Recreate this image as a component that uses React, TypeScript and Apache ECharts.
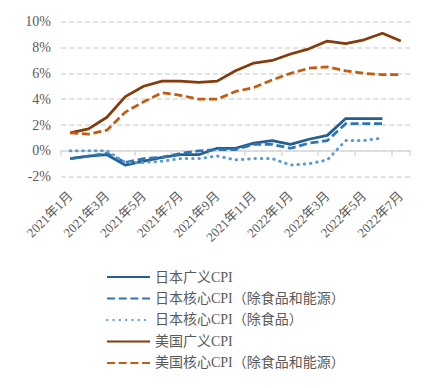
import React, { useEffect, useRef } from "react";
import * as echarts from "echarts";

const months = [
  "2021年1月", "2021年2月", "2021年3月", "2021年4月", "2021年5月", "2021年6月",
  "2021年7月", "2021年8月", "2021年9月", "2021年10月", "2021年11月", "2021年12月",
  "2022年1月", "2022年2月", "2022年3月", "2022年4月", "2022年5月", "2022年6月", "2022年7月",
];

const jpHeadline = [-0.6, -0.4, -0.3, -1.1, -0.8, -0.5, -0.3, -0.3, 0.2, 0.2, 0.6, 0.8, 0.5, 0.9, 1.2, 2.5, 2.5, 2.5, null];
const jpCoreExFoodEnergy = [-0.6, -0.4, -0.2, -0.9, -0.6, -0.5, -0.2, 0.0, 0.1, 0.1, 0.5, 0.5, 0.2, 0.6, 0.8, 2.1, 2.1, 2.1, null];
const jpCoreExFood = [0.0, 0.0, 0.0, -0.9, -0.9, -0.8, -0.6, -0.6, -0.4, -0.7, -0.6, -0.6, -1.1, -1.0, -0.7, 0.8, 0.8, 1.0, null];
const usHeadline = [1.4, 1.7, 2.6, 4.2, 5.0, 5.4, 5.4, 5.3, 5.4, 6.2, 6.8, 7.0, 7.5, 7.9, 8.5, 8.3, 8.6, 9.1, 8.5];
const usCore = [1.4, 1.3, 1.6, 3.0, 3.8, 4.5, 4.3, 4.0, 4.0, 4.6, 4.9, 5.5, 6.0, 6.4, 6.5, 6.2, 6.0, 5.9, 5.9];

const seriesNames = [
  "日本广义CPI",
  "日本核心CPI（除食品和能源）",
  "日本核心CPI（除食品）",
  "美国广义CPI",
  "美国核心CPI（除食品和能源）",
];

const FONT = "'Liberation Serif', 'Times New Roman', 'Noto Sans CJK SC', serif";
const TEXT_COLOR = "#595959";

export default function App() {
  const ref = useRef<HTMLDivElement>(null);

  useEffect(() => {
    if (!ref.current) return;
    const chart = echarts.init(ref.current, null, { renderer: "svg" });
    const mk = (
      name: string,
      data: (number | null)[],
      color: string,
      type: any,
      cap: any = "butt",
      width = 2.75
    ) => ({
      name,
      type: "line",
      data,
      xAxisIndex: 0,
      symbol: "none",
      connectNulls: false,
      lineStyle: { color, width, type, cap },
      itemStyle: { color, opacity: 0 },
    });
    chart.setOption({
      animation: false,
      backgroundColor: "#ffffff",
      textStyle: { fontFamily: FONT },
      grid: { left: 61, right: 24, top: 21.7, height: 155, containLabel: false },
      xAxis: [
        {
          type: "category",
          data: months,
          boundaryGap: true,
          position: "bottom",
          axisLine: { onZero: true, lineStyle: { color: "#d9d9d9", width: 1.5 } },
          axisTick: { show: true, interval: 1, length: 5, lineStyle: { color: "#d9d9d9", width: 1.5 } },
          axisLabel: { show: false },
          splitLine: { show: false },
        },
        {
          type: "category",
          data: months,
          boundaryGap: true,
          position: "bottom",
          axisLine: { show: false, onZero: false },
          axisTick: { show: false },
          axisLabel: {
            show: true,
            interval: 1,
            rotate: 45,
            margin: 17,
            color: TEXT_COLOR,
            fontSize: 13,
            fontFamily: FONT,
          },
          splitLine: { show: false },
        },
      ],
      yAxis: {
        type: "value",
        min: -2,
        max: 10,
        interval: 2,
        axisLine: { show: false },
        axisTick: { show: false },
        axisLabel: {
          formatter: (v: number) => `${v}%`,
          color: TEXT_COLOR,
          fontSize: 14,
          fontFamily: FONT,
          margin: 10,
        },
        splitLine: { lineStyle: { color: "#d9d9d9", width: 1.5, type: [5, 3] } },
      },
      legend: {
        orient: "vertical",
        left: 101,
        top: 265,
        itemWidth: 43,
        itemHeight: 14,
        itemGap: 7.5,
        itemStyle: { opacity: 0 },
        textStyle: { color: TEXT_COLOR, fontSize: 14, fontFamily: FONT },
        data: seriesNames,
      },
      series: [
        mk(seriesNames[0], jpHeadline, "#255e91", "solid"),
        mk(seriesNames[1], jpCoreExFoodEnergy, "#2e75b6", [8, 3.7]),
        mk(seriesNames[2], jpCoreExFood, "#5b9bd5", [0.5, 5.8], "round", 3),
        mk(seriesNames[3], usHeadline, "#843c0c", "solid"),
        mk(seriesNames[4], usCore, "#c55a11", [8, 3.7]),
      ],
    });
    return () => chart.dispose();
  }, []);

  return (
    <div
      ref={ref}
      style={{ position: "fixed", left: 0, top: 0, width: 434, height: 388, background: "#fff" }}
    />
  );
}
